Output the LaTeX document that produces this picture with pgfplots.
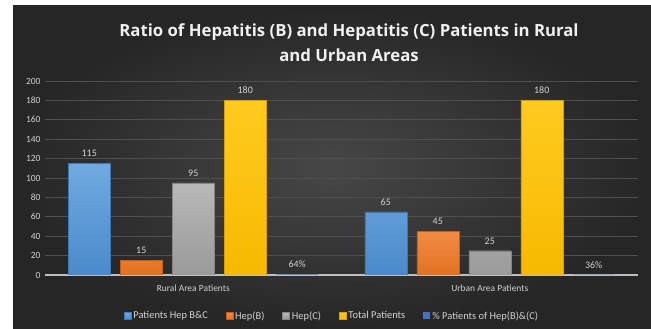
\documentclass[border=0pt]{standalone}
\usepackage{pgfplots}
\pgfplotsset{compat=1.18}
\usepackage{fontspec}
\setmainfont{Carlito}
\newfontfamily\titlefont{Open Sans}

\definecolor{bgdark}{HTML}{262626}
\definecolor{bglight}{HTML}{474747}
\definecolor{txt}{HTML}{D2D2D2}
\definecolor{gridc}{HTML}{4F4F4F}
\definecolor{axisc}{HTML}{BFBFBF}
\definecolor{blueT}{HTML}{70AAE0}
\definecolor{blueB}{HTML}{4A8ACB}
\definecolor{blueE}{HTML}{3A78B8}
\definecolor{orT}{HTML}{F28C45}
\definecolor{orB}{HTML}{E2711F}
\definecolor{orE}{HTML}{C65F15}
\definecolor{grT}{HTML}{B8B8B8}
\definecolor{grB}{HTML}{9A9A9A}
\definecolor{grE}{HTML}{858585}
\definecolor{yeT}{HTML}{FFCB1F}
\definecolor{yeB}{HTML}{F7B900}
\definecolor{yeE}{HTML}{D9A000}
\definecolor{dkblue}{HTML}{4472C4}

\begin{document}
\begin{tikzpicture}
\useasboundingbox (0,0) rectangle (651bp,329bp);
\fill[white] (0,0) rectangle (651bp,329bp);
\shade[inner color=bglight, outer color=bgdark] (13bp,0) rectangle (651bp,323bp);

\node[font=\titlefont\bfseries\fontsize{16.8}{25}\selectfont, text=white!94!black, align=center]
  at (349bp,286.5bp) {Ratio of Hepatitis (B) and Hepatitis (C) Patients in Rural\\and Urban Areas};

\begin{axis}[
  at={(45bp,54bp)}, anchor=south west,
  width=593bp, height=194bp, scale only axis,
  xmin=-0.5, xmax=1.5, ymin=0, ymax=200,
  ybar=10bp, bar width=42bp,
  xtick={0,1}, xticklabels={Rural Area Patients, Urban Area Patients},
  ytick={0,20,...,200},
  ymajorgrids, grid style={gridc, line width=0.8bp},
  axis x line*=bottom, axis y line*=left,
  x axis line style={draw=axisc, line width=1.6bp, -},
  y axis line style={draw=none},
  major tick length=0pt,
  tick label style={font=\fontsize{9.5}{11}\selectfont, text=txt},
  yticklabel style={xshift=-1bp},
  xticklabel style={yshift=-6bp},
  /pgf/number format/assume math mode=true,
  nodes near coords,
  every node near coord/.append style={font=\fontsize{10}{12}\selectfont, text=txt, yshift=3bp},
  legend style={at={(0.484,-0.211)}, anchor=center, legend columns=-1, draw=none, fill=none,
    text=txt, font=\fontsize{10.5}{12}\selectfont,
    /tikz/every even column/.append style={column sep=16bp}},
  legend image code/.code={\fill[#1] (0bp,-3.5bp) rectangle (7bp,3.5bp);},
]
\addplot[draw=blueE, top color=blueT, bottom color=blueB] coordinates {(0,115) (1,65)};
\addplot[draw=orE, top color=orT, bottom color=orB] coordinates {(0,15) (1,45)};
\addplot[draw=grE, top color=grT, bottom color=grB] coordinates {(0,95) (1,25)};
\addplot[draw=yeE, top color=yeT, bottom color=yeB] coordinates {(0,180) (1,180)};
\addplot[draw=none, fill=dkblue, point meta=explicit symbolic] coordinates {(0,0.64) [64\%] (1,0.36) [36\%]};
\legend{Patients Hep B\&C, Hep(B), Hep(C), Total Patients, \% Patients of Hep(B)\&(C)}
\end{axis}
\end{tikzpicture}
\end{document}
